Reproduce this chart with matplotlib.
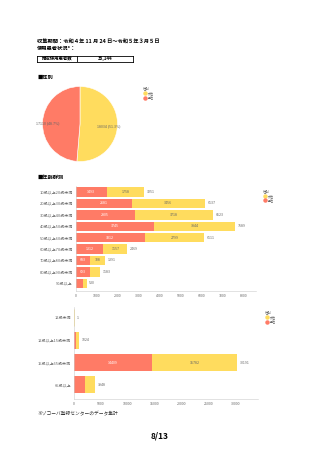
import matplotlib.pyplot as plt
from matplotlib.lines import Line2D
import numpy as np

plt.rcParams['font.family'] = ['Noto Sans CJK JP', 'DejaVu Sans']

W, H = 320, 453

# data
sex_labels = ['女性', '男性']
sex_values = [18034, 17110]

age_groups = ['10歳以上20歳未満', '20歳以上30歳未満', '30歳以上40歳未満', '40歳以上50歳未満',
              '50歳以上60歳未満', '60歳以上70歳未満', '70歳以上80歳未満', '80歳以上90歳未満', '90歳以上']
age_male = [1493, 2681, 2805, 3745, 3312, 1312, 683, 693, 350]
age_female = [1758, 3456, 3718, 3844, 2799, 1157, 708, 490, 180]

age_groups2 = ['12歳未満', '12歳以上15歳未満', '15歳以上65歳未満', '65歳以上']
age2_male = [0, 420, 14409, 2080]
age2_female = [1, 604, 15782, 1868]
age2_total = [1, 1024, 30191, 3948]

RED = '#ff7b66'
YEL = '#ffdc5e'
GRAY = '#666666'


def px_axes(fig, left, top, width, height):
    return fig.add_axes([left / W, 1 - (top + height) / H, width / W, height / H])


fig = plt.figure(figsize=(W / 100, H / 100), dpi=100)

# header texts
fig.text(37 / W, 1 - 41 / H, '収集期間：令和４年 11 月 24 日～令和５年３月５日', fontsize=3.8,
         fontweight='bold', va='center')
fig.text(37 / W, 1 - 48.5 / H, '使用患者状況*：', fontsize=3.8, fontweight='bold', va='center')

tab = px_axes(fig, 37, 55.5, 96, 6)
tab.set_xlim(0, 96)
tab.set_ylim(0, 6)
tab.set_xticks([])
tab.set_yticks([])
for s in tab.spines.values():
    s.set_linewidth(0.6)
tab.axvline(40, color='black', lw=0.6)
tab.text(20, 3, '推定使用患者数', fontsize=3.2, fontweight='bold', ha='center', va='center')
tab.text(68, 3, '35,144', fontsize=3.2, fontweight='bold', ha='center', va='center')

fig.text(37 / W, 1 - 77 / H, '■性別', fontsize=3.8, fontweight='bold', va='center')
fig.text(37 / W, 1 - 177 / H, '■年齢群別', fontsize=3.8, fontweight='bold', va='center')

# pie
pax = px_axes(fig, 42.5, 86.5, 75, 75)
total = sum(sex_values)
pax.pie(sex_values, colors=[YEL, RED], startangle=90, counterclock=False,
        wedgeprops=dict(edgecolor='white', linewidth=0.4))
pax.set_xlim(-1, 1)
pax.set_ylim(-1, 1)
pax.set_aspect('equal')
pax.text(0.78, -0.05, f'{sex_values[0]} ({sex_values[0] / total * 100:.1f}%)', fontsize=2.6,
         color=GRAY, ha='center', va='center')
pax.text(-0.85, 0.03, f'{sex_values[1]} ({sex_values[1] / total * 100:.1f}%)', fontsize=2.6,
         color=GRAY, ha='center', va='center')


def legend_block(x, y):
    fig.text(x / W, 1 - y / H, '性別', fontsize=2.4, color=GRAY, va='center')
    for i, (lab, col) in enumerate(zip(sex_labels, [YEL, RED])):
        yy = y + 5 + i * 4.5
        fig.add_artist(Line2D([(x + 1.5) / W], [1 - yy / H], marker='o', markersize=2.2,
                              color=col, linestyle='none', transform=fig.transFigure))
        fig.text((x + 4.5) / W, 1 - yy / H, lab, fontsize=2.2, color=GRAY, va='center')


legend_block(143, 88)


def bar_panel(ax, cats, male, female, totals, xmax, ticks, height, min_in):
    y = np.arange(len(cats))
    ax.barh(y, male, height=height, color=RED)
    ax.barh(y, female, left=male, height=height, color=YEL)
    for i in range(len(cats)):
        if male[i] >= min_in:
            ax.text(male[i] / 2, y[i], str(male[i]), fontsize=2.6, color='white', ha='center', va='center')
        if female[i] >= min_in:
            ax.text(male[i] + female[i] / 2, y[i], str(female[i]), fontsize=2.6, color=GRAY,
                    ha='center', va='center')
        ax.text(totals[i] + xmax * 0.015, y[i], str(totals[i]), fontsize=2.6, color=GRAY,
                ha='left', va='center')
    ax.set_yticks(y)
    ax.set_yticklabels(cats, fontsize=2.9, color=GRAY)
    ax.set_xlim(0, xmax)
    ax.set_xticks(ticks)
    ax.set_xticklabels([str(t) for t in ticks], fontsize=2.6, color=GRAY)
    ax.tick_params(length=0, pad=2)
    for s in ['top', 'right']:
        ax.spines[s].set_visible(False)
    ax.spines['left'].set_color('#cccccc')
    ax.spines['bottom'].set_color('#cccccc')
    ax.spines['left'].set_linewidth(0.4)
    ax.spines['bottom'].set_linewidth(0.4)


age_total = [m + f for m, f in zip(age_male, age_female)]
ax1 = px_axes(fig, 75.5, 186.3, 180, 105)
bar_panel(ax1, age_groups, age_male, age_female, age_total, 8550, list(range(0, 9000, 1000)), 0.82, 600)
ax1.set_ylim(8.7, -0.5)
legend_block(263, 191)

ax2 = px_axes(fig, 73.7, 306.8, 184, 92.2)
bar_panel(ax2, age_groups2, age2_male, age2_female, age2_total, 34000, list(range(0, 35000, 5000)), 0.76, 3000)
ax2.set_ylim(3.63, -0.5)
ax2.barh([0], [1], height=0.76, color=YEL, edgecolor=YEL, linewidth=0.5)
legend_block(265, 312)

fig.text(37 / W, 1 - 414 / H, '※ゾコーバ登録センターのデータ集計', fontsize=3.4, color='#333333', va='center')
fig.text(160 / W, 1 - 436 / H, '8/13', fontsize=6, fontweight='bold', ha='center', va='center')

fig.savefig('out.png', dpi=100)
